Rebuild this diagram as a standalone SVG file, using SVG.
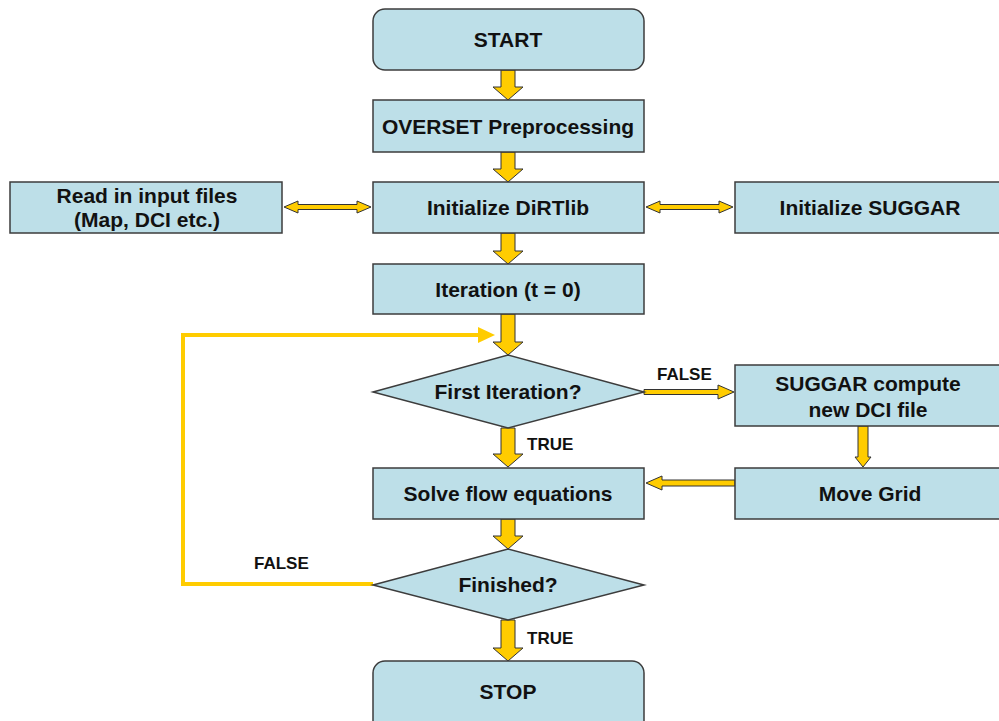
<svg xmlns="http://www.w3.org/2000/svg" width="999" height="721" viewBox="0 0 999 721">
<style>
.box{fill:#BDDFE8;stroke:#3c3c3c;stroke-width:1.5}
.t{font-family:"Liberation Sans",Arial,sans-serif;font-weight:bold;font-size:21px;fill:#111;text-anchor:middle}
.lbl{font-family:"Liberation Sans",Arial,sans-serif;font-weight:bold;font-size:17px;fill:#111}
.ba{fill:#FFCC00;stroke:#333;stroke-width:1;stroke-linejoin:miter}
.loop{fill:none;stroke:#FFCC00;stroke-width:4}
</style>
<rect width="999" height="721" fill="#fff"/>
<g id="connectors">
<polygon class="ba" points="501,70 515,70 515,87 523,87 508,100 493,87 501,87"/>
<polygon class="ba" points="501,152 515,152 515,169 523,169 508,182 493,169 501,169"/>
<polygon class="ba" points="501,233 515,233 515,251 523,251 508,264 493,251 501,251"/>
<polygon class="ba" points="501,314 515,314 515,342 523,342 508,355 493,342 501,342"/>
<polygon class="ba" points="501,428 515,428 515,454 523,454 508,467 493,454 501,454"/>
<polygon class="ba" points="501,519 515,519 515,536 523,536 508,549 493,536 501,536"/>
<polygon class="ba" points="501,620 515,620 515,648 523,648 508,661 493,648 501,648"/>
<polygon class="ba" points="284,207 298,201 298,204.5 357,204.5 357,201 371,207 357,213 357,209.5 298,209.5 298,213"/>
<polygon class="ba" points="646,207 660,201 660,204.5 719,204.5 719,201 733,207 719,213 719,209.5 660,209.5 660,213"/>
<polygon class="ba" points="644,389.5 718,389.5 718,385 734,392 718,399 718,394.5 644,394.5"/>
<polygon class="ba" points="858,426 868,426 868,457 871,457 863,467 855,457 858,457"/>
<polygon class="ba" points="735,480 662,480 662,476 646,483 662,490 662,486 735,486"/>
<polyline class="loop" points="373,584 183,584 183,335 480,335"/>
<polygon fill="#FFCC00" points="478,327 495,335 478,343"/>
<text class="lbl" x="657" y="380">FALSE</text>
<text class="lbl" x="527" y="450">TRUE</text>
<text class="lbl" x="254" y="569">FALSE</text>
<text class="lbl" x="527" y="644">TRUE</text>
</g>
<g id="start"><rect class="box" x="373" y="9" width="271" height="61" rx="12"/><text class="t" x="508" y="47">START</text></g>
<g id="overset"><rect class="box" x="373" y="100" width="271" height="52"/><text class="t" x="508" y="134">OVERSET Preprocessing</text></g>
<g id="readinput"><rect class="box" x="10" y="182" width="272" height="51"/><text class="t" x="147" y="203">Read in input files</text><text class="t" x="147" y="227">(Map, DCI etc.)</text></g>
<g id="dirtlib"><rect class="box" x="373" y="182" width="271" height="51"/><text class="t" x="508" y="215">Initialize DiRTlib</text></g>
<g id="suggarinit"><rect class="box" x="735" y="182" width="270" height="51"/><text class="t" x="870" y="215">Initialize SUGGAR</text></g>
<g id="iteration"><rect class="box" x="373" y="264" width="271" height="50"/><text class="t" x="508" y="297">Iteration (t = 0)</text></g>
<g id="firstiter"><polygon class="box" points="373,392 508,355 644,392 508,428"/><text class="t" x="508" y="399">First Iteration?</text></g>
<g id="suggarcompute"><rect class="box" x="735" y="365" width="270" height="61"/><text class="t" x="868" y="391">SUGGAR compute</text><text class="t" x="868" y="417">new DCI file</text></g>
<g id="solve"><rect class="box" x="373" y="468" width="271" height="51"/><text class="t" x="508" y="501">Solve flow equations</text></g>
<g id="movegrid"><rect class="box" x="735" y="468" width="270" height="51"/><text class="t" x="870" y="501">Move Grid</text></g>
<g id="finished"><polygon class="box" points="373,585 508,549 644,585 508,620"/><text class="t" x="508" y="592">Finished?</text></g>
<g id="stop"><rect class="box" x="373" y="661" width="271" height="75" rx="12"/><text class="t" x="508" y="699">STOP</text></g>
</svg>
